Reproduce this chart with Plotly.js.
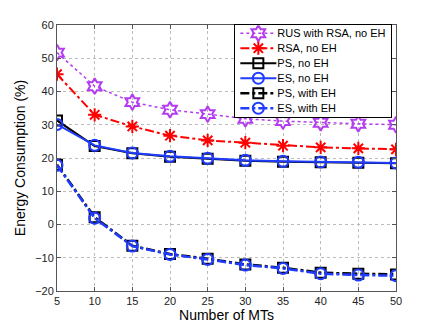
<!DOCTYPE html>
<html><head><meta charset="utf-8">
<script src="https://cdn.plot.ly/plotly-3.0.1.min.js"></script>
<style>body{margin:0;padding:0;background:#fff}#chart{width:436px;height:327px}</style>
</head><body><div id="chart"></div>
<script>
const mts = [5, 10, 15, 20, 25, 30, 35, 40, 45, 50];
const rusRsaNoEH = [51.7, 41.6, 36.8, 34.5, 33.2, 31.8, 31.1, 30.6, 30.3, 30.0];
const rsaNoEH = [45.2, 33.0, 29.5, 26.7, 25.3, 24.6, 23.7, 23.2, 22.9, 22.6];
const psNoEH = [31.3, 23.6, 21.4, 20.4, 19.8, 19.2, 18.9, 18.7, 18.6, 18.4];
const esNoEH = [30.1, 23.8, 21.5, 20.5, 19.9, 19.3, 19.0, 18.8, 18.7, 18.5];
const psWithEH = [18.0, 2.2, -6.4, -8.9, -10.3, -12.0, -13.0, -14.5, -14.8, -15.0];
const esWithEH = [17.8, 1.9, -6.5, -9.0, -10.5, -12.2, -13.2, -14.8, -15.2, -15.4];
const names = ['RUS with RSA, no EH', 'RSA, no EH', 'PS, no EH', 'ES, no EH', 'PS, with EH', 'ES, with EH'];

const purple = '#b43cf0', red = '#ff0000', black = '#000000', blue = '#1f3cff';
const FONT = 'Liberation Sans, Arial, sans-serif';
function tr(y, name, color, dash, symbol, size, width) {
  return {x: mts, y: y, name: name, type: 'scatter', mode: 'lines+markers',
    line: {color: color, dash: dash, width: width},
    marker: {symbol: symbol, size: size, color: color, line: {color: color, width: 2}}};
}
const data = [
  tr(rusRsaNoEH, names[0], purple, 'dot', 'hexagram-open', 12, 1.5),
  tr(rsaNoEH, names[1], red, 'dashdot', 'asterisk-open', 11, 2),
  tr(psNoEH, names[2], black, 'solid', 'square-open', 10, 2),
  tr(esNoEH, names[3], blue, 'solid', 'circle-open', 11, 2),
  tr(psWithEH, names[4], black, 'dashdot', 'square-open', 10, 2.5),
  tr(esWithEH, names[5], blue, 'dashdot', 'circle-open', 11, 2.5)
];
const axisCommon = {showline: true, linecolor: '#555', linewidth: 1, mirror: 'ticks',
  ticks: 'inside', ticklen: 4, tickcolor: '#555', showgrid: true, gridcolor: '#bbb',
  griddash: 'dot', gridwidth: 1, zeroline: false,
  tickfont: {family: FONT, size: 11, color: '#222'}};
const layout = {
  width: 436, height: 327,
  margin: {l: 57, r: 40, t: 25, b: 36},
  paper_bgcolor: '#fff', plot_bgcolor: '#fff',
  showlegend: true,
  legend: {x: 0.987, y: 1.003, xanchor: 'right', yanchor: 'top', bgcolor: '#fff',
    bordercolor: '#000', borderwidth: 1, tracegroupgap: 0, itemwidth: 36,
    font: {family: FONT, size: 11, color: '#000'}},
  xaxis: Object.assign({}, axisCommon, {range: [5, 50], tickvals: mts,
    title: {text: 'Number of MTs', standoff: 3, font: {family: FONT, size: 14, color: '#000'}}}),
  yaxis: Object.assign({}, axisCommon, {range: [-20, 60], dtick: 10,
    title: {text: 'Energy Consumption (%)', standoff: 6, font: {family: FONT, size: 14, color: '#000'}}})
};
Plotly.newPlot('chart', data, layout, {displayModeBar: false, staticPlot: true}).then(function (gd) {
  // compact legend to match the reference box
  const leg = gd.querySelector('.legend');
  if (!leg) return;
  const items = leg.querySelectorAll('.traces');
  const step = 15, top = 9;
  let maxRight = 0;
  items.forEach(function (g, i) {
    const m = /translate\(([^,]+),\s*([^)]+)\)/.exec(g.getAttribute('transform') || '');
    const x = m ? parseFloat(m[1]) : 0;
    g.setAttribute('transform', 'translate(' + x + ',' + (top + i * step) + ')');
    const t = g.querySelector('.legendtext');
    if (t) {
      const tx = parseFloat(t.getAttribute('x') || '0');
      t.setAttribute('x', tx - 4);
      const bb = t.getBBox();
      maxRight = Math.max(maxRight, x + bb.x + bb.width);
    }
  });
  const h = top + (items.length - 1) * step + 9;
  const bg = leg.querySelector('rect.bg');
  const oldW = bg ? parseFloat(bg.getAttribute('width')) : 0;
  const newW = Math.min(oldW, maxRight + 5);
  leg.querySelectorAll('rect.bg').forEach(function (r) { r.setAttribute('height', h); r.setAttribute('width', newW); });
  document.querySelectorAll('clipPath[id*="legend"] rect').forEach(function (r) { r.setAttribute('height', h); r.setAttribute('width', newW); });
  const lm = /translate\(([^,]+),\s*([^)]+)\)/.exec(leg.getAttribute('transform') || '');
  if (lm) leg.setAttribute('transform', 'translate(' + (parseFloat(lm[1]) + oldW - newW) + ',' + parseFloat(lm[2]) + ')');
});
</script></body></html>
